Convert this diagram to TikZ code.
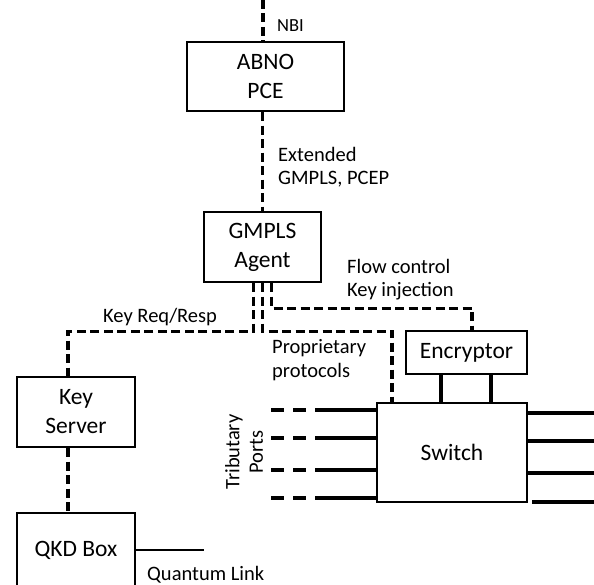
\documentclass[tikz,border=0pt]{standalone}
\usepackage{fontspec}
\setmainfont{Carlito}
\tikzset{
  box/.style={draw, line width=2.2pt, inner sep=0pt, font=\fontsize{23.5}{29}\selectfont, align=center},
  lbl/.style={inner sep=0pt, font=\fontsize{20.5}{23.5}\selectfont, align=left, anchor=base west},
  dsh/.style={line width=3.2pt, dash pattern=on 9pt off 4.5pt},
  sol/.style={line width=3.2pt},
}
\begin{document}
\begin{tikzpicture}[x=1pt,y=-1pt]
\useasboundingbox (0,0) rectangle (594,585);
% boxes
\node[box, minimum width=157pt, minimum height=69pt] (abno) at (265.5,76.5) {ABNO\\PCE};
\node[box, minimum width=117pt, minimum height=70pt] (gmpls) at (262.5,247) {GMPLS\\Agent};
\node[box, minimum width=118pt, minimum height=70pt] (keyserver) at (76,412) {Key\\Server};
\node[box, minimum width=118pt, minimum height=87pt] (qkd) at (76,556.5) {};
\node[inner sep=0pt, font=\fontsize{23.5}{29}\selectfont] (qkdtext) at (76,550) {QKD Box};
\node[box, minimum width=121pt, minimum height=43pt] (encryptor) at (466.5,352.5) {Encryptor};
\node[box, minimum width=150pt, minimum height=99pt] (switch) at (452,452.5) {Switch};
% dashed control connectors
\coordinate (nbitop) at (263,0);
\draw[dsh] (nbitop) -- (nbitop |- abno.north);
\draw[dsh] (abno.south -| gmpls.north) -- (gmpls.north);
\draw[dsh] ([xshift=-9pt]gmpls.south) -- ++(0,48) -| ([xshift=-8pt]keyserver.north);
\draw[dsh] (gmpls.south) -- ++(0,48) -| ([xshift=-60pt]switch.north);
\draw[dsh] ([xshift=9pt]gmpls.south) -- ++(0,25) -| ([xshift=5.5pt]encryptor.north);
\draw[dsh] ([xshift=-8pt]keyserver.south) -- ([xshift=-8pt]qkd.north);
% encryptor to switch
\draw[sol] ([xshift=-25.5pt]encryptor.south) -- ([xshift=-11pt]switch.north);
\draw[sol] ([xshift=24.5pt]encryptor.south) -- ([xshift=39pt]switch.north);
% tributary ports
\foreach \i/\y in {1/410,2/438,3/470,4/498}{
  \coordinate (pl\i) at (271,\y);
  \coordinate (pm\i) at (315,\y);
  \draw[line width=3.2pt, dash pattern=on 13pt off 9pt] (pl\i) -- (pm\i);
  \draw[sol] (pm\i) -- (switch.west |- pm\i);
}
% line ports
\coordinate (pr1) at (594,413);
\coordinate (pr2) at (594,441);
\coordinate (pr3) at (594,473);
\coordinate (pr4) at (594,502);
\draw[sol] (switch.east |- pr1) -- (pr1);
\draw[sol] (switch.east |- pr2) -- (pr2);
\draw[sol] (switch.east |- pr3) -- (pr3);
\draw[sol] ([xshift=4pt]switch.east |- pr4) -- (pr4);
% quantum link
\coordinate (qend) at (204,550);
\draw[line width=2.6pt] (qkd.east |- qend) -- (qend);
% labels (base = last line)
\node[lbl, font=\fontsize{18.5}{21}\selectfont] (nbi) at (277,32) {NBI};
\node[lbl] (ext) at (278,185) {Extended\\GMPLS, PCEP};
\node[lbl] (flow) at (347,297) {Flow control\\Key injection};
\node[lbl] (keyreq) at (103,322) {Key Req/Resp};
\node[lbl] (prop) at (272,377) {Proprietary\\protocols};
\node[lbl] (qlink) at (147,580) {Quantum Link};
\node[lbl, rotate=90, align=center, anchor=center] (trib) at (244,452) {Tributary\\Ports};
\end{tikzpicture}
\end{document}
